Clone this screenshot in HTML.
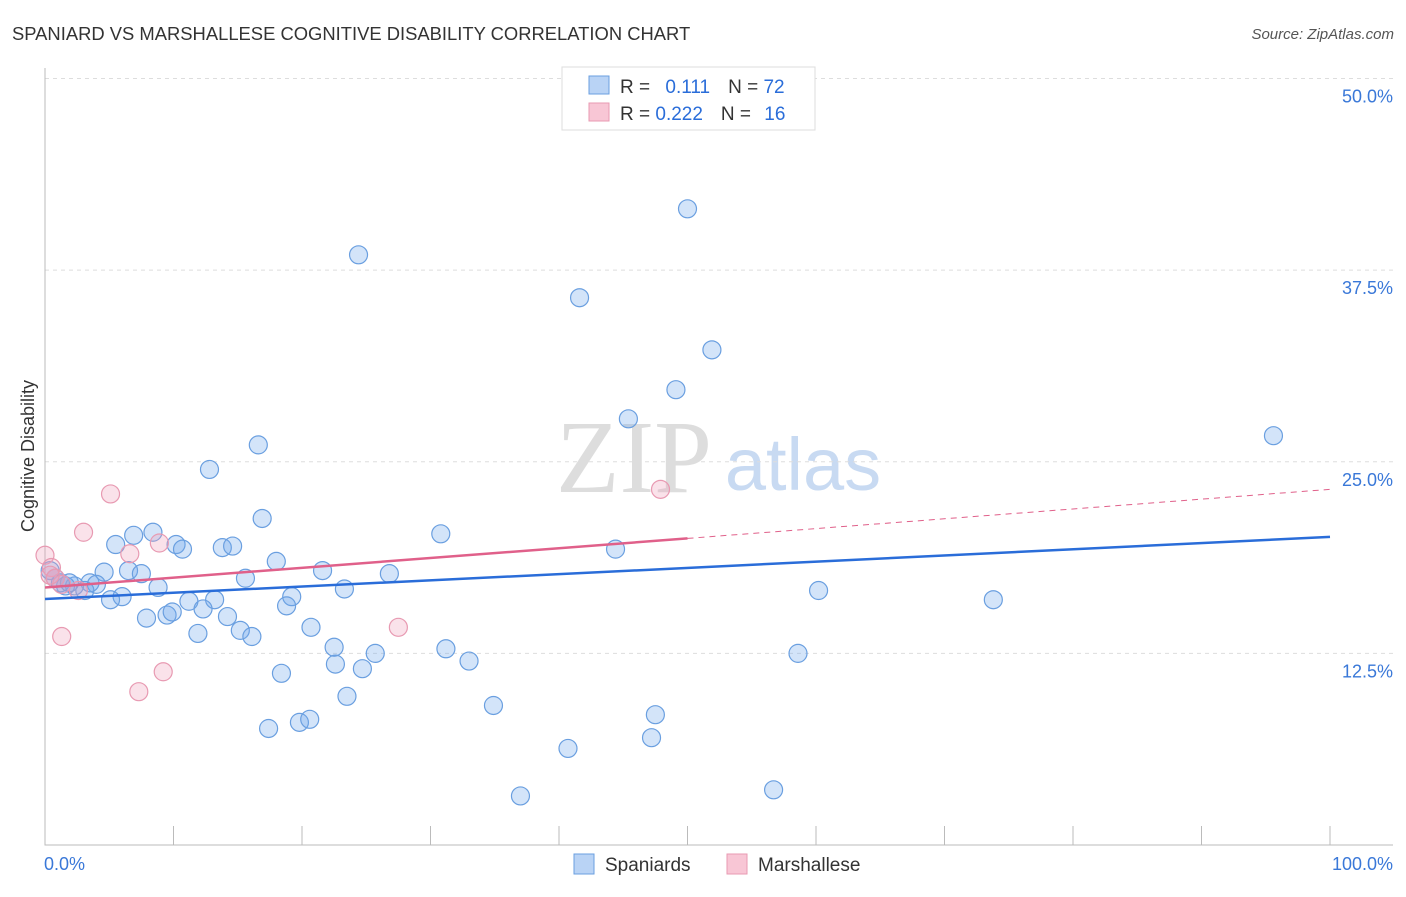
<!DOCTYPE html>
<html><head><meta charset="utf-8"><style>
body{margin:0;background:#fff;font-family:"Liberation Sans",sans-serif}
</style></head><body>
<svg id="c" width="1406" height="892" xmlns="http://www.w3.org/2000/svg" style="font-family:'Liberation Sans',sans-serif">
<text x="12" y="40" font-size="18.4" fill="#333">SPANIARD VS MARSHALLESE COGNITIVE DISABILITY CORRELATION CHART</text>
<text x="1394" y="39" font-size="15" fill="#555" text-anchor="end" font-style="italic">Source: ZipAtlas.com</text>
<text x="634" y="492" font-size="104" fill="#ddd" text-anchor="middle" font-family="Liberation Serif">ZIP</text>
<text x="803" y="490" font-size="74" fill="#c8daf2" text-anchor="middle">atlas</text>
<text transform="translate(34,456) rotate(-90)" font-size="18" fill="#333" text-anchor="middle">Cognitive Disability</text>
<g id="grid"></g><g id="marks"></g>
<g>
<rect x="562" y="67" width="253" height="63" fill="#fff" stroke="#ddd"/>
<rect x="589" y="76" width="20" height="18" fill="#b9d3f5" stroke="#6a9fe0"/>
<rect x="589" y="103" width="20" height="18" fill="#f8c6d5" stroke="#e89ab2"/>
<text x="620" y="93" font-size="19" fill="#333">R = <tspan fill="#2a6dd9" dx="10">0.111</tspan><tspan dx="18">N = </tspan><tspan fill="#2a6dd9">72</tspan></text>
<text x="620" y="120" font-size="19" fill="#333">R = <tspan fill="#2a6dd9">0.222</tspan><tspan dx="18">N = </tspan><tspan fill="#2a6dd9" dx="8">16</tspan></text>
</g>
<g>
<rect x="574" y="854" width="20" height="20" fill="#b9d3f5" stroke="#6a9fe0"/>
<text x="605" y="871" font-size="19" fill="#333">Spaniards</text>
<rect x="727" y="854" width="20" height="20" fill="#f8c6d5" stroke="#e89ab2"/>
<text x="758" y="871" font-size="19" fill="#333">Marshallese</text>
</g>
</svg>
<script>
const yTicks=[12.5,25,37.5,50];
const yTickLabels=["12.5%","25.0%","37.5%","50.0%"];
const xTickLabels=["0.0%","100.0%"];
const spX=[50.0,24.4,41.6,51.9,49.1,45.4,95.6,16.6,12.8,16.9,30.8,6.9,8.4,5.5,10.2,10.7,13.8,14.6,44.4,18.0,6.5,4.6,7.5,21.6,26.8,15.6,3.5,4.0,2.3,1.6,3.1,8.8,23.3,60.2,6.0,5.1,11.2,13.2,19.2,73.8,18.8,7.9,9.5,9.9,12.3,14.2,20.7,11.9,15.2,16.1,22.5,31.2,25.7,58.6,22.6,24.7,33.0,18.4,23.5,34.9,47.5,19.8,20.6,17.4,47.2,40.7,56.7,37.0,0.8,0.4,1.2,1.9];
const spY=[41.5,38.5,35.7,32.3,29.7,27.8,26.7,26.1,24.5,21.3,20.3,20.2,20.4,19.6,19.6,19.3,19.4,19.5,19.3,18.5,17.9,17.8,17.7,17.9,17.7,17.4,17.1,17.0,16.9,16.9,16.6,16.8,16.7,16.6,16.2,16.0,15.9,16.0,16.2,16.0,15.6,14.8,15.0,15.2,15.4,14.9,14.2,13.8,14.0,13.6,12.9,12.8,12.5,12.5,11.8,11.5,12.0,11.2,9.7,9.1,8.5,8.0,8.2,7.6,7.0,6.3,3.6,3.2,17.4,17.9,17.1,17.1];
const mhX=[5.1,3.0,8.9,6.6,0,0.5,0.8,1.3,2.6,27.5,1.3,9.2,7.3,47.9,0.4];
const mhY=[22.9,20.4,19.7,19.0,18.9,18.1,17.4,17.0,16.6,14.2,13.6,11.3,10.0,23.2,17.6];
const spTrend=[16.05,20.1];
const mhTrend=[16.8,23.2];
const X=v=>45+v*12.85, Y=v=>845-v*15.33;
const NS="http://www.w3.org/2000/svg";
function mk(t,a,p){const e=document.createElementNS(NS,t);for(const k in a)e.setAttribute(k,a[k]);p.appendChild(e);return e;}
const g=document.getElementById('grid'), m=document.getElementById('marks');
yTicks.forEach((t,i)=>{
 const l=mk('line',{x1:45,x2:1393,y1:Y(t),y2:Y(t),stroke:'#ddd','stroke-dasharray':'4,4'},g);
 
 
 const tx=mk('text',{x:1393,y:Y(t)+24,'font-size':18,fill:'#3a78d8','text-anchor':'end'},g);
 tx.textContent=yTickLabels[i];
 
 
});
const ax=mk('path',{d:'M45,68V845H1393',stroke:'#bbb',fill:'none'},g);


for(let i=0;i<=10;i++){const t=mk('line',{x1:X(i*10),x2:X(i*10),y1:826,y2:845,stroke:'#bbb'},g);
 
 }
[[X(0)-1,'start'],[1393,'end']].forEach((p,i)=>{const t=mk('text',{x:p[0],y:870,'font-size':18,fill:'#3a78d8','text-anchor':p[1]},g);t.textContent=xTickLabels[i];
 
 });
spX.forEach((v,i)=>{const c=mk('circle',{cx:X(v),cy:Y(spY[i]),r:9,fill:'rgba(110,165,235,0.3)',stroke:'#6a9fe0','stroke-width':1.2},m);
 
 });
mhX.forEach((v,i)=>{const c=mk('circle',{cx:X(v),cy:Y(mhY[i]),r:9,fill:'rgba(240,160,185,0.3)',stroke:'#e89ab2','stroke-width':1.2},m);
 
 });
const bl=mk('line',{x1:X(0),y1:Y(spTrend[0]),x2:X(100),y2:Y(spTrend[1]),stroke:'#2a6dd9','stroke-width':2.5},m);


const mid=(mhTrend[0]+mhTrend[1])/2;
const pl=mk('line',{x1:X(0),y1:Y(mhTrend[0]),x2:X(50),y2:Y(mid),stroke:'#e0608a','stroke-width':2.5},m);


const pd=mk('line',{x1:X(50),y1:Y(mid),x2:X(100),y2:Y(mhTrend[1]),stroke:'#e0608a','stroke-width':1,'stroke-dasharray':'6,5'},m);


</script>
</body></html>
